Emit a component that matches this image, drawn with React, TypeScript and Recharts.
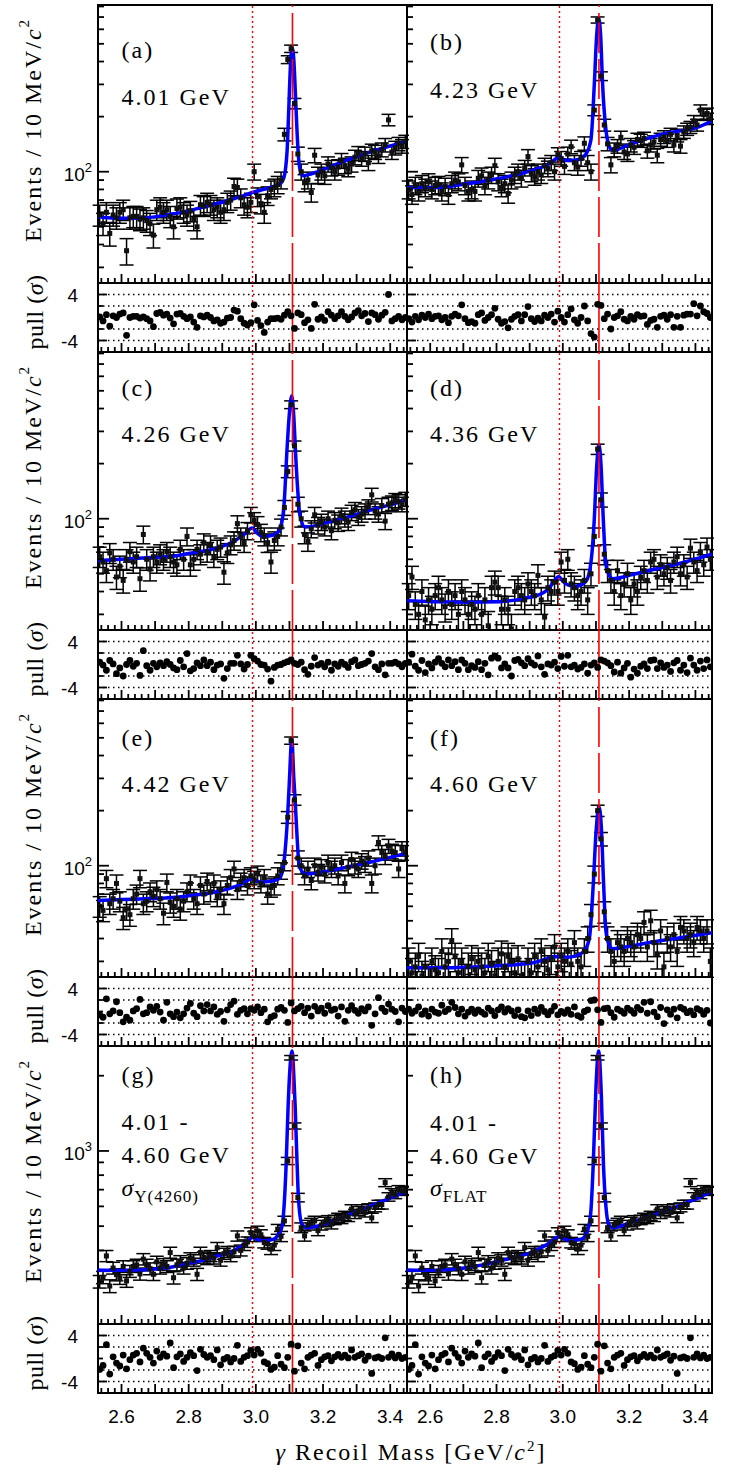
import React from "react";
import {
  ComposedChart,
  Scatter,
  Line,
  XAxis,
  YAxis,
  ErrorBar,
  ReferenceLine,
  ReferenceArea,
} from "recharts";

// gamma recoil mass axis, GeV/c^2
const X_MIN = 2.53;
const X_MAX = 3.45;
const ETA_C = 2.99; // dotted red line
const JPSI = 3.109; // dashed red line

// 10 MeV bins
const BIN_CENTERS = [
  2.535, 2.545, 2.555, 2.565, 2.575, 2.585, 2.595, 2.605, 2.615, 2.625,
  2.635, 2.645, 2.655, 2.665, 2.675, 2.685, 2.695, 2.705, 2.715, 2.725,
  2.735, 2.745, 2.755, 2.765, 2.775, 2.785, 2.795, 2.805, 2.815, 2.825,
  2.835, 2.845, 2.855, 2.865, 2.875, 2.885, 2.895, 2.905, 2.915, 2.925,
  2.935, 2.945, 2.955, 2.965, 2.975, 2.985, 2.995, 3.005, 3.015, 3.025,
  3.035, 3.045, 3.055, 3.065, 3.075, 3.085, 3.095, 3.105, 3.115, 3.125,
  3.135, 3.145, 3.155, 3.165, 3.175, 3.185, 3.195, 3.205, 3.215, 3.225,
  3.235, 3.245, 3.255, 3.265, 3.275, 3.285, 3.295, 3.305, 3.315, 3.325,
  3.335, 3.345, 3.355, 3.365, 3.375, 3.385, 3.395, 3.405, 3.415, 3.425,
  3.435, 3.445,
];

const X_TICKS = [
  2.54, 2.56, 2.58, 2.6, 2.62, 2.64, 2.66, 2.68, 2.7, 2.72, 2.74, 2.76, 2.78,
  2.8, 2.82, 2.84, 2.86, 2.88, 2.9, 2.92, 2.94, 2.96, 2.98, 3.0, 3.02, 3.04,
  3.06, 3.08, 3.1, 3.12, 3.14, 3.16, 3.18, 3.2, 3.22, 3.24, 3.26, 3.28, 3.3,
  3.32, 3.34, 3.36, 3.38, 3.4, 3.42, 3.44,
];
const LOG_TICKS_LOW = [30, 40, 50, 60, 70, 80, 90, 100, 200, 300, 400, 500, 600, 700, 800];
const LOG_TICKS_HIGH = [300, 400, 500, 600, 700, 800, 900, 1000, 2000];
const PULL_TICKS = [-4, -2, 0, 2, 4];
const PULL_GRID = [-4, -2, 2, 4];

// ---- 4.01 GeV (a)
const COUNTS_4010 = [
  58, 52, 60, 46, 58, 56, 60, 62, 37, 56,
  57, 57, 55, 56, 54, 52, 45, 62, 64, 60,
  62, 57, 50, 63, 64, 60, 58, 61, 55,
  50, 66, 65, 68, 66, 62, 64, 60, 62, 68,
  70, 83, 82, 72, 66, 64, 68, 100, 73, 67,
  60, 74, 80, 82, 85, 90, 160, 410, 470, 236,
  125, 100, 87, 90, 77, 123, 96, 100, 95, 110,
  105, 100, 106, 115, 108, 104, 110, 120, 126, 118,
  125, 112, 130, 128, 122, 132, 140, 192, 128, 135,
  142, 138, 146,
];
const PULLS_4010 = [
  0.1, -0.6, 0.5, -1.5, 0.3, 0.0, 0.6, 0.8, -3.1, 0.0,
  0.2, 0.2, -0.1, 0.1, -0.2, -0.6, -1.6, 0.7, 0.9, 0.4,
  0.6, -0.1, -1.1, 0.6, 0.7, 0.2, -0.2, 0.1, -0.8,
  -1.7, 0.3, 0.1, 0.4, 0.0, -0.6, -0.4, -1.0, -0.8, -0.1,
  0.0, 1.3, 1.1, -0.2, -1.0, -1.3, -0.9, 2.2, -0.5, -1.4,
  -2.6, -0.8, -0.2, -0.2, -0.1, -0.3, 0.4, 1.0, 0.3, -1.9,
  0.8, 0.5, -0.9, -0.4, -1.9, 2.3, -0.3, 0.1, -0.5, 1.0,
  0.4, -0.2, 0.3, 1.0, 0.2, -0.4, 0.1, 0.8, 1.2, 0.3,
  0.7, -0.7, 0.8, 0.5, -0.3, 0.4, 0.9, 4.0, -0.6, -0.2,
  0.2, -0.4, 0.0,
];
const FIT_4010 = [
  [2.53, 57], [2.56, 56], [2.609, 55.6], [2.658, 55.8], [2.708, 57], [2.757, 59],
  [2.807, 61.5], [2.856, 65], [2.905, 68.5], [2.955, 73], [2.989, 77], [3.024, 80],
  [3.053, 83], [3.073, 86], [3.083, 92], [3.093, 130], [3.098, 220], [3.103, 380],
  [3.108, 475], [3.113, 410], [3.118, 260], [3.123, 160], [3.127, 120], [3.132, 102],
  [3.142, 95], [3.162, 97], [3.202, 103], [3.251, 112], [3.3, 121], [3.35, 130],
  [3.399, 138], [3.45, 146],
];

// ---- 4.23 GeV (b)
const COUNTS_4230 = [
  80, 75, 84, 78, 86, 82, 88, 80, 84, 85,
  78, 83, 75, 86, 90, 88, 109, 84, 78, 80,
  78, 92, 95, 84, 90, 96, 108, 88, 82, 86,
  76, 90, 96, 100, 92, 105, 121, 98, 94, 100,
  96, 108, 104, 112, 100, 124, 118, 107, 125, 137,
  112, 106, 118, 143, 112, 100, 217, 675, 333, 180,
  142, 109, 132, 138, 154, 128, 125, 140, 136, 150,
  148, 152, 130, 140, 145, 123, 150, 155, 148, 160,
  140, 158, 138, 165, 171, 175, 189, 180, 217, 205,
  208, 195,
];
const PULLS_4230 = [
  -0.2, -0.8, 0.2, -0.4, 0.4, 0.0, 0.6, -0.2, 0.2, 0.3,
  -0.4, 0.0, -0.9, 0.2, 0.6, 0.3, 2.2, -0.2, -0.9, -0.7,
  -1.0, 0.5, 0.8, -0.5, 0.0, 0.5, 1.6, -0.3, -1.0, -0.7,
  -1.8, -0.3, 0.2, 0.5, -0.6, 0.5, 1.9, -0.2, -0.7, -0.1,
  -0.6, 0.4, 0.0, 0.6, -0.8, 1.1, 0.0, -0.8, 0.5, 1.5,
  -0.4, -1.0, 0.0, 2.0, -0.6, -2.8, -3.4, 2.3, 2.1, -0.2,
  0.6, -2.0, 0.0, 0.3, 1.0, -0.3, -0.6, 0.2, -0.3, 0.5,
  0.2, 0.3, -1.2, -0.5, -0.3, -1.7, 0.2, 0.4, -0.3, 0.5,
  -1.7, 0.2, -1.7, 0.4, 0.6, 0.6, 2.4, 0.3, 2.0, 1.0,
  0.7, 0.0,
];
const FIT_4230 = [
  [2.53, 82], [2.61, 82], [2.71, 86], [2.81, 92], [2.91, 102], [2.96, 111],
  [2.98, 118], [2.99, 122], [3.0, 117], [3.02, 115], [3.05, 117], [3.07, 125],
  [3.085, 150], [3.095, 300], [3.102, 550], [3.108, 690], [3.114, 560], [3.12, 300],
  [3.13, 170], [3.14, 138], [3.15, 131], [3.21, 143], [3.31, 162], [3.41, 176],
  [3.45, 189],
];

// ---- 4.26 GeV (c)
const COUNTS_4260 = [
  62, 58, 52, 65, 60, 48, 55, 46, 60, 66,
  58, 62, 47, 82, 60, 53, 62, 58, 64, 60,
  66, 62, 58, 56, 68, 60, 80, 56, 60,
  68, 64, 74, 66, 72, 62, 68, 70, 51, 65,
  72, 76, 94, 80, 74, 86, 105, 98, 93, 84,
  80, 74, 58, 76, 80, 90, 115, 181, 420, 250,
  120, 100, 82, 75, 88, 105, 92, 96, 90, 100,
  86, 98, 95, 104, 100, 96, 108, 112, 102, 106,
  110, 116, 135, 110, 106, 118, 97, 120, 122, 126,
  124, 120, 128,
];
const PULLS_4260 = [
  0.4, -0.1, -1.0, 0.7, 0.1, -1.6, -0.6, -2.0, 0.0, 0.7,
  -0.3, 0.2, -1.9, 2.4, -0.2, -1.0, 0.2, -0.4, 0.3, -0.2,
  0.5, 0.0, -0.6, -0.9, 0.7, -0.4, 1.9, -1.1, -0.7,
  0.3, -0.2, 0.8, -0.2, 0.4, -0.9, -0.1, 0.1, -2.4, -0.7,
  0.2, 0.2, 1.6, 0.1, -0.8, 0.0, 1.6, 1.0, 0.6, 0.0,
  -0.1, -0.8, -2.9, -0.5, -0.1, 0.0, 0.3, 0.5, 0.8, 0.2,
  0.0, 0.4, -0.9, -1.7, -0.3, 1.2, -0.1, 0.2, -0.4, 0.4,
  -1.0, 0.1, -0.3, 0.4, 0.0, -0.5, 0.5, 0.8, -0.2, 0.0,
  0.2, 0.6, 1.9, -0.4, -0.9, 0.1, -1.8, 0.2, 0.2, 0.4,
  0.1, -0.4, 0.2,
];
const FIT_4260 = [
  [2.53, 59], [2.6, 60], [2.7, 61.5], [2.746, 62.2], [2.8, 64.5], [2.865, 67.7],
  [2.925, 73.6], [2.961, 81], [2.989, 89], [3.002, 84], [3.021, 80], [3.057, 82],
  [3.075, 92], [3.084, 120], [3.093, 243], [3.1, 380], [3.107, 470], [3.113, 360],
  [3.119, 214], [3.125, 140], [3.131, 105], [3.147, 90], [3.225, 96.7], [3.28, 103],
  [3.345, 112], [3.4, 119], [3.45, 127],
];

// ---- 4.36 GeV (d)
const COUNTS_4360 = [
  38, 48, 34, 30, 40, 28, 36, 32, 38, 42,
  36, 33, 40, 34, 38, 30, 40, 36, 30, 34,
  32, 38, 30, 36, 26, 42, 45, 42, 32, 36,
  32, 25, 40, 42, 38, 36, 44, 40, 38, 49,
  36, 29, 42, 40, 45, 40, 58, 46, 60, 44,
  42, 38, 40, 46, 36, 50, 80, 240, 127, 64,
  52, 46, 40, 52, 38, 44, 50, 36, 44, 40,
  48, 52, 46, 58, 60, 48, 56, 50, 54, 46,
  58, 62, 50, 56, 48, 69, 58, 52, 66, 56,
  70, 60,
];
const PULLS_4360 = [
  0.4, 1.8, -0.3, -1.0, 0.7, -1.4, 0.1, -0.6, 0.4, 1.0,
  0.2, -0.4, 0.8, -0.2, 0.5, -0.9, 0.8, 0.2, -0.9, -0.2,
  -0.5, 0.5, -0.9, 0.2, -1.8, 1.1, 1.5, 1.1, -0.6, 0.1,
  -0.6, -2.0, 0.7, 0.9, 0.3, -0.2, 1.0, 0.3, -0.1, 1.5,
  -0.4, -1.7, 0.1, -0.1, 0.4, -0.7, 1.4, -0.3, 1.6, -0.4,
  -0.1, -0.8, -0.5, 0.1, -1.5, -0.1, 0.3, -0.5, 0.8, 0.6,
  0.3, -0.2, -1.3, 0.4, -1.5, -0.6, 0.2, -2.2, -0.8, -1.5,
  -0.3, 0.1, -0.7, 0.7, 0.8, -0.7, 0.3, -0.5, -0.1, -1.2,
  0.3, 0.7, -1.0, -0.1, -1.4, 1.1, -0.1, -1.0, 0.6, -0.7,
  0.8, -0.4,
];
const FIT_4360 = [
  [2.53, 35.6], [2.61, 35.2], [2.71, 35], [2.81, 35.2], [2.88, 36.6], [2.94, 39.3],
  [2.96, 42], [2.975, 46], [2.988, 48.4], [3.0, 45.5], [3.015, 43.5], [3.04, 42.7],
  [3.07, 45.5], [3.085, 58], [3.095, 100], [3.102, 190], [3.109, 254], [3.115, 200],
  [3.122, 100], [3.13, 56], [3.14, 49], [3.15, 47], [3.21, 49.5], [3.27, 52.6],
  [3.36, 57.5], [3.45, 64],
];

// ---- 4.42 GeV (e)
const COUNTS_4420 = [
  60, 57, 85, 62, 66, 80, 64, 52, 58, 54,
  66, 70, 85, 62, 64, 72, 68, 74, 66, 55,
  81, 63, 60, 66, 58, 64, 72, 80, 66,
  62, 78, 70, 82, 72, 80, 68, 74, 62, 78,
  86, 96, 74, 82, 86, 78, 88, 84, 90, 80,
  86, 70, 76, 78, 88, 94, 104, 184, 483, 229,
  110, 100, 88, 96, 83, 100, 92, 98, 90, 104,
  96, 100, 88, 104, 80, 98, 108, 100, 96, 106,
  102, 110, 80, 100, 134, 118, 112, 128, 120, 118,
  96, 124, 118,
];
const PULLS_4420 = [
  -0.6, -1.0, 2.2, -0.4, 0.1, 1.7, -0.2, -1.8, -1.0, -1.5,
  0.1, 0.5, 2.1, -0.4, -0.2, 0.8, 0.2, 0.9, -0.1, -1.5,
  1.6, -0.4, -0.9, -0.1, -1.1, -0.4, 0.6, 1.4, -0.3,
  -0.9, 1.0, 0.1, 1.2, 0.1, 0.8, -0.5, 0.0, -1.7, 0.3,
  1.2, 1.8, -0.5, 0.2, 0.5, -0.4, 0.5, 0.2, 0.8, -0.2,
  0.4, -1.8, -1.0, -0.7, 0.4, 0.7, 0.2, -1.9, 1.5, 0.1,
  0.5, 0.9, -0.2, 0.6, -0.8, 0.9, 0.1, 0.6, -0.3, 1.0,
  0.2, 0.4, -0.8, 0.8, -1.7, 0.2, 1.0, 0.2, -0.3, 0.5,
  0.1, 0.8, -2.4, -0.4, 2.4, 0.6, 0.0, 1.3, 0.4, 0.0,
  -1.8, 0.6, 0.0,
];
const FIT_4420 = [
  [2.53, 64.6], [2.6, 65.3], [2.7, 66.3], [2.746, 66.9], [2.8, 68.5], [2.865, 70.9],
  [2.92, 75], [2.949, 78], [2.989, 84.5], [3.0, 83], [3.015, 81.4], [3.05, 82.5],
  [3.069, 85], [3.08, 95], [3.087, 120], [3.094, 180], [3.099, 270], [3.107, 490],
  [3.113, 300], [3.117, 227], [3.123, 140], [3.129, 100], [3.147, 90], [3.225, 94.3],
  [3.28, 99], [3.345, 105], [3.4, 111], [3.45, 117],
];

// ---- 4.60 GeV (f)
const COUNTS_4600 = [
  30, 26, 28, 32, 25, 28, 24, 30, 27, 26,
  34, 28, 30, 39, 32, 26, 30, 24, 28, 31,
  27, 30, 28, 26, 32, 29, 25, 30, 33, 28,
  32, 30, 26, 31, 25, 24, 30, 26, 32, 28,
  34, 30, 27, 31, 36, 28, 32, 30, 34, 29,
  38, 30, 28, 34, 40, 54, 90, 200, 140, 56,
  40, 34, 30, 38, 36, 34, 40, 38, 36, 42,
  40, 49, 36, 50, 38, 33, 44, 28, 40, 36,
  42, 34, 46, 44, 40, 42, 38, 46, 44, 40,
  44, 30,
];
const PULLS_4600 = [
  0.4, -0.3, 0.1, 0.8, -0.5, 0.1, -0.8, 0.4, -0.1, -0.3,
  1.1, 0.0, 0.4, 1.6, 0.7, -0.4, 0.4, -0.8, -0.1, 0.4,
  -0.3, 0.3, -0.1, -0.5, 0.6, 0.1, -0.7, 0.3, 0.8, -0.1,
  0.5, 0.1, -0.7, 0.3, -0.9, -1.1, 0.1, -0.7, 0.4, -0.3,
  0.7, 0.0, -0.6, 0.1, 0.9, -0.6, 0.0, -0.3, 0.3, -0.5,
  0.8, -0.7, -1.0, 0.0, 0.3, 1.9, 2.0, 0.3, -1.9, 0.5,
  0.6, -0.2, -1.0, 0.4, 0.1, -0.3, 0.6, 0.2, -0.3, 0.7,
  0.3, 1.6, -0.3, 1.7, -0.1, -0.9, 0.7, -2.1, 0.3, -0.5,
  0.4, -1.1, 0.7, 0.4, -0.2, 0.1, -0.6, 0.5, 0.2, -0.5,
  0.2, -2.0,
];
const FIT_4600 = [
  [2.53, 27.7], [2.66, 27.7], [2.79, 28.3], [2.91, 29.5], [2.985, 31.9], [3.015, 31.6],
  [3.06, 33.5], [3.08, 40], [3.092, 80], [3.1, 150], [3.109, 209], [3.116, 165],
  [3.123, 80], [3.13, 44], [3.14, 37], [3.15, 35.2], [3.21, 36.5], [3.27, 38.3],
  [3.36, 40.5], [3.45, 43],
];

// ---- 4.01 - 4.60 GeV combined (g, h share the data)
const COUNTS_ALL = [
  300, 312, 380, 288, 340, 320, 310, 345, 302, 330,
  345, 350, 322, 369, 350, 338, 321, 360, 340, 352,
  345, 392, 311, 350, 362, 340, 355, 372, 365,
  321, 392, 375, 370, 380, 372, 410, 365, 388, 395,
  380, 395, 457, 400, 420, 432, 471, 455, 478, 462,
  430, 425, 405, 420, 486, 455, 525, 912, 2360, 1259,
  651, 493, 457, 505, 515, 525, 480, 505, 520, 528,
  510, 530, 540, 535, 550, 545, 585, 560, 575, 585,
  568, 590, 540, 595, 610, 610, 747, 655, 680, 670,
  700, 690, 695,
];
const PULLS_ALL = [
  -1.9, -1.2, 2.4, -2.7, 0.3, -0.8, -1.3, 0.6, -1.8, -0.2,
  0.6, 0.9, -0.6, 1.8, 0.9, 0.2, -0.8, 1.3, 0.2, 0.8,
  0.4, 2.7, -1.6, 0.3, 0.8, -0.5, 0.2, 1.0, 0.5,
  -2.1, 1.6, 0.7, 0.2, 0.5, -0.2, 1.5, -1.1, -0.1, 0.2,
  -0.6, 0.0, 2.3, -0.5, 0.2, 0.5, 1.4, 0.6, 1.6, 0.9,
  -0.6, -0.9, -1.9, -1.5, 0.5, -1.0, -1.6, 0.2, 2.5, -2.2,
  2.2, -0.8, -1.8, 0.2, 0.6, 0.9, -1.2, -0.2, 0.3, 0.5,
  -0.4, 0.3, 0.7, 0.2, 0.6, 0.1, 1.5, 0.2, 0.5, 0.8,
  -0.3, 0.4, -2.6, 0.1, 0.3, 0.0, 3.6, 0.2, 0.8, 0.1,
  0.6, 0.0, 0.2,
];
const FIT_ALL_Y4260 = [
  [2.53, 334], [2.58, 333], [2.636, 333], [2.7, 337], [2.735, 341], [2.78, 350],
  [2.834, 363], [2.88, 378], [2.933, 398], [2.96, 420], [2.973, 432], [2.99, 450],
  [3.005, 443], [3.023, 437], [3.052, 443], [3.07, 470], [3.077, 493], [3.084, 600],
  [3.09, 871], [3.096, 1500], [3.102, 2188], [3.108, 2512], [3.113, 2000], [3.117, 1513],
  [3.122, 950], [3.127, 641], [3.137, 509], [3.152, 493], [3.2, 508], [3.231, 525],
  [3.28, 558], [3.33, 593], [3.39, 640], [3.45, 691],
];
const FIT_ALL_FLAT = [
  [2.53, 334], [2.61, 333], [2.71, 341], [2.81, 363], [2.91, 395], [2.96, 428],
  [2.989, 454], [3.005, 445], [3.02, 437], [3.055, 443], [3.072, 470], [3.084, 560],
  [3.092, 900], [3.1, 1800], [3.108, 2510], [3.116, 1700], [3.123, 850], [3.13, 600],
  [3.138, 510], [3.15, 493], [3.21, 520], [3.26, 545], [3.31, 575], [3.36, 610],
  [3.41, 650], [3.45, 690],
];

// ---- layout
const SERIF = "Liberation Serif";
const SANS = "Liberation Sans";
const LEFT_X = 98;
const RIGHT_X = 407;
const LEFT_W = 309;
const RIGHT_W = 305;
const ROW_TOP = [5, 352, 699, 1046];
const MAIN_H = 278;
const PULL_H = 69;
const PAD = 2;
const BOTTOM_AXIS_H = 45;
const INK = "#000";

const LOW_SCALE = { domain: [24.65, 814.7], ticks: LOG_TICKS_LOW, major: 100, exp: "2" };
const HIGH_SCALE = { domain: [203, 2630], ticks: LOG_TICKS_HIGH, major: 1000, exp: "3" };

type Panel = {
  tag: string;
  lines: string[];
  sigma?: string;
  col: number;
  row: number;
  tagY: number;
  lineY: number[];
  counts: number[];
  pulls: number[];
  fit: number[][];
};

const PANELS: Panel[] = [
  { tag: "(a)", lines: ["4.01 GeV"], col: 0, row: 0, tagY: 53, lineY: [100], counts: COUNTS_4010, pulls: PULLS_4010, fit: FIT_4010 },
  { tag: "(b)", lines: ["4.23 GeV"], col: 1, row: 0, tagY: 45, lineY: [93], counts: COUNTS_4230, pulls: PULLS_4230, fit: FIT_4230 },
  { tag: "(c)", lines: ["4.26 GeV"], col: 0, row: 1, tagY: 44, lineY: [90], counts: COUNTS_4260, pulls: PULLS_4260, fit: FIT_4260 },
  { tag: "(d)", lines: ["4.36 GeV"], col: 1, row: 1, tagY: 44, lineY: [90], counts: COUNTS_4360, pulls: PULLS_4360, fit: FIT_4360 },
  { tag: "(e)", lines: ["4.42 GeV"], col: 0, row: 2, tagY: 47, lineY: [93], counts: COUNTS_4420, pulls: PULLS_4420, fit: FIT_4420 },
  { tag: "(f)", lines: ["4.60 GeV"], col: 1, row: 2, tagY: 47, lineY: [93], counts: COUNTS_4600, pulls: PULLS_4600, fit: FIT_4600 },
  { tag: "(g)", lines: ["4.01 -", "4.60 GeV"], sigma: "Υ(4260)", col: 0, row: 3, tagY: 37, lineY: [84, 117], counts: COUNTS_ALL, pulls: PULLS_ALL, fit: FIT_ALL_Y4260 },
  { tag: "(h)", lines: ["4.01 -", "4.60 GeV"], sigma: "FLAT", col: 1, row: 3, tagY: 37, lineY: [85, 118], counts: COUNTS_ALL, pulls: PULLS_ALL, fit: FIT_ALL_FLAT },
];

const isTenth = (v: number) => Math.abs(v * 10 - Math.round(v * 10)) < 1e-6;

// ticks point into the frame, like the ROOT original
function xTick(props: any, withLabel: boolean) {
  const { x, y, payload } = props;
  const v = payload.value;
  const major = isTenth(v);
  const labelled = withLabel && major && Math.round(v * 10) % 2 === 0;
  return (
    <g>
      <path d={`M${x},${y}V${y - (major ? 9 : 5)}`} stroke={INK} strokeWidth={1.8} fill="none" />
      {labelled && (
        <text x={x} y={y + 30} textAnchor="middle" fontFamily={SANS} fontSize={19} fill={INK}>
          {v.toFixed(1)}
        </text>
      )}
    </g>
  );
}

function logTick(props: any, scale: typeof LOW_SCALE, withLabel: boolean) {
  const { x, y, payload } = props;
  const major = payload.value === scale.major;
  return (
    <g>
      <path d={`M${x},${y}H${x + (major ? 11 : 6)}`} stroke={INK} strokeWidth={1.8} fill="none" />
      {withLabel && major && (
        <text x={x - 6} y={y + 9} textAnchor="end" fontFamily={SANS} fontSize={19} fill={INK}>
          10
          <tspan dy={-9} fontSize={13}>
            {scale.exp}
          </tspan>
        </text>
      )}
    </g>
  );
}

function pullTick(props: any, withLabel: boolean) {
  const { x, y, payload } = props;
  const major = Math.abs(payload.value) === 4;
  return (
    <g>
      <path d={`M${x},${y}H${x + (major ? 9 : 5)}`} stroke={INK} strokeWidth={1.8} fill="none" />
      {withLabel && major && (
        <text x={x - 20} y={y + 7} textAnchor="end" fontFamily={SANS} fontSize={19} fill={INK}>
          {payload.value > 0 ? "4" : "-4"}
        </text>
      )}
    </g>
  );
}

const square = (p: any) => <rect x={p.cx - 2.5} y={p.cy - 2.5} width={5} height={5} fill="#111" />;
const dot = (p: any) => <circle cx={p.cx} cy={p.cy} r={3.4} fill={INK} />;

function MainChart({ panel }: { panel: Panel }) {
  const left = panel.col === 0;
  const axisW = left ? LEFT_X : 10;
  const plotW = left ? LEFT_W : RIGHT_W;
  const scale = panel.row === 3 ? HIGH_SCALE : LOW_SCALE;
  const points = BIN_CENTERS.map((x, i) => ({ x, y: panel.counts[i], err: Math.sqrt(panel.counts[i]) }));
  const curve = panel.fit.map(([x, y]) => ({ x, y }));
  return (
    <div style={{ position: "absolute", left: (left ? LEFT_X : RIGHT_X) - axisW, top: ROW_TOP[panel.row] - PAD }}>
      <ComposedChart
        width={axisW + plotW + PAD}
        height={PAD + MAIN_H + 1}
        margin={{ top: PAD, right: PAD, bottom: 0, left: 0 }}
      >
        <ReferenceArea
          x1={X_MIN}
          x2={X_MAX}
          y1={scale.domain[0]}
          y2={scale.domain[1]}
          fill="none"
          fillOpacity={0}
          stroke={INK}
          strokeWidth={2}
        />
        <Scatter data={points} dataKey="y" shape={square} isAnimationActive={false}>
          <ErrorBar dataKey="err" direction="y" width={7} stroke={INK} strokeWidth={1.5} isAnimationActive={false} />
        </Scatter>
        <Line
          data={curve}
          dataKey="y"
          type="monotone"
          stroke="#0000ff"
          strokeWidth={3.5}
          dot={false}
          activeDot={false}
          isAnimationActive={false}
        />
        <ReferenceLine x={ETA_C} stroke="#ff0000" strokeWidth={1.4} strokeDasharray="2 3" />
        <ReferenceLine x={JPSI} stroke="#ff0000" strokeWidth={1.6} strokeDasharray="40 6" />
        <XAxis
          type="number"
          dataKey="x"
          domain={[X_MIN, X_MAX]}
          allowDataOverflow
          ticks={X_TICKS}
          interval={0}
          height={1}
          axisLine={false}
          tickLine={false}
          tickSize={0}
          tickMargin={0}
          tick={(p: any) => xTick(p, false)}
        />
        <YAxis
          type="number"
          scale="log"
          domain={scale.domain}
          allowDataOverflow
          ticks={scale.ticks}
          interval={0}
          width={axisW}
          axisLine={false}
          tickLine={false}
          tickSize={0}
          tickMargin={0}
          tick={(p: any) => logTick(p, scale, left)}
        />
      </ComposedChart>
    </div>
  );
}

function PullChart({ panel }: { panel: Panel }) {
  const left = panel.col === 0;
  const axisW = left ? LEFT_X : 10;
  const plotW = left ? LEFT_W : RIGHT_W;
  const bottom = panel.row === 3;
  const xAxisH = bottom ? BOTTOM_AXIS_H : 1;
  const points = BIN_CENTERS.map((x, i) => ({ x, y: panel.pulls[i] }));
  return (
    <div style={{ position: "absolute", left: (left ? LEFT_X : RIGHT_X) - axisW, top: ROW_TOP[panel.row] + MAIN_H }}>
      <ComposedChart
        width={axisW + plotW + PAD}
        height={PULL_H + xAxisH}
        margin={{ top: 0, right: PAD, bottom: 0, left: 0 }}
      >
        <ReferenceArea x1={X_MIN} x2={X_MAX} y1={-6} y2={6} fill="none" fillOpacity={0} stroke={INK} strokeWidth={2} />
        {PULL_GRID.map((g) => (
          <ReferenceLine key={g} y={g} stroke={INK} strokeWidth={1.3} strokeDasharray="1.5 3.5" />
        ))}
        <ReferenceLine x={ETA_C} stroke="#ff0000" strokeWidth={1.4} strokeDasharray="2 3" />
        <ReferenceLine x={JPSI} stroke="#ff0000" strokeWidth={1.6} />
        <Scatter data={points} dataKey="y" shape={dot} isAnimationActive={false} />
        <XAxis
          type="number"
          dataKey="x"
          domain={[X_MIN, X_MAX]}
          allowDataOverflow
          ticks={X_TICKS}
          interval={0}
          height={xAxisH}
          axisLine={false}
          tickLine={false}
          tickSize={0}
          tickMargin={0}
          tick={(p: any) => xTick(p, bottom)}
        />
        <YAxis
          type="number"
          domain={[-6, 6]}
          allowDataOverflow
          ticks={PULL_TICKS}
          interval={0}
          width={axisW}
          axisLine={false}
          tickLine={false}
          tickSize={0}
          tickMargin={0}
          tick={(p: any) => pullTick(p, left)}
        />
      </ComposedChart>
    </div>
  );
}

function Texts() {
  return (
    <svg
      width={747}
      height={1477}
      style={{ position: "absolute", left: 0, top: 0, pointerEvents: "none" }}
    >
      <g style={{ fontFamily: SERIF }} fill={INK}>
        {ROW_TOP.map((t, r) => (
          <g key={r}>
            <text
              transform={`translate(33,${t + 125}) rotate(-90)`}
              textAnchor="middle"
              dominantBaseline="central"
              fontSize={24}
              letterSpacing={2}
            >
              Events / 10 MeV/<tspan fontStyle="italic">c</tspan>
              <tspan fontSize={15} dy={-9}>
                2
              </tspan>
            </text>
            <text
              transform={`translate(35,${t + 307}) rotate(-90)`}
              textAnchor="middle"
              dominantBaseline="central"
              fontSize={24}
              letterSpacing={0.5}
            >
              pull (<tspan fontStyle="italic">σ</tspan>)
            </text>
          </g>
        ))}
        {PANELS.map((p) => {
          const x = p.col === 0 ? 121.5 : 430;
          const t = ROW_TOP[p.row];
          return (
            <g key={p.tag} fontSize={24} letterSpacing={2}>
              <text x={x} y={t + p.tagY}>
                {p.tag}
              </text>
              {p.lines.map((s, i) => (
                <text key={i} x={x} y={t + p.lineY[i]}>
                  {s}
                </text>
              ))}
              {p.sigma && (
                <text x={x} y={t + 150} letterSpacing={1}>
                  <tspan fontStyle="italic">σ</tspan>
                  <tspan fontSize={17} dy={6}>
                    {p.sigma}
                  </tspan>
                </text>
              )}
            </g>
          );
        })}
        <text x={411} y={1460} textAnchor="middle" fontSize={24} letterSpacing={2}>
          <tspan fontStyle="italic">γ</tspan> Recoil Mass [GeV/<tspan fontStyle="italic">c</tspan>
          <tspan fontSize={15} dy={-9}>
            2
          </tspan>
          <tspan dy={9}>]</tspan>
        </text>
      </g>
    </svg>
  );
}

export default function App() {
  return (
    <div style={{ position: "absolute", left: 0, top: 0, width: 747, height: 1477, background: "#fff" }}>
      {PANELS.map((p) => (
        <React.Fragment key={p.tag}>
          <MainChart panel={p} />
          <PullChart panel={p} />
        </React.Fragment>
      ))}
      <Texts />
    </div>
  );
}
